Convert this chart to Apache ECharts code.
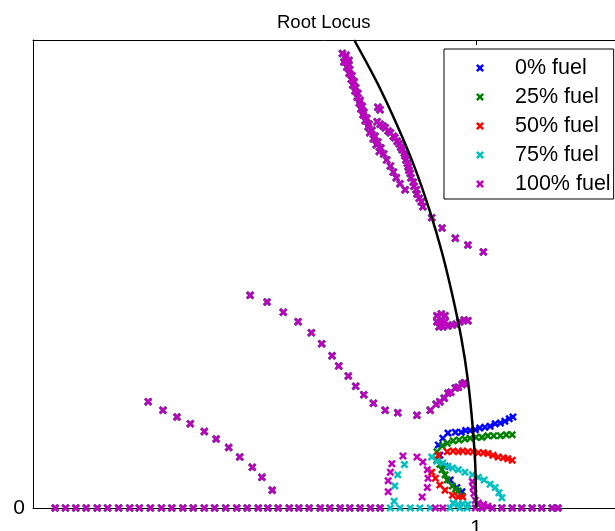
<!DOCTYPE html>
<html>
<head>
<meta charset="utf-8">
<script src="https://cdn.jsdelivr.net/npm/echarts@6/dist/echarts.min.js"></script>
<style>html,body{margin:0;padding:0;background:#fff}#c{width:615px;height:531px}</style>
</head>
<body>
<div id="c"></div>
<script>
// ---- Data ----
const seriesNames = ['0% fuel', '25% fuel', '50% fuel', '75% fuel', '100% fuel'];
const xTickValues = [1];
const yTickValues = [0];

// unit circle boundary (black curve)
const unitCircle = [[0.835,0.55],[0.866,0.50],[0.893,0.45],[0.917,0.40],[0.937,0.35],[0.954,0.30],[0.968,0.25],[0.980,0.20],[0.989,0.15],[0.995,0.10],[0.999,0.05],[1.0,0.0]];

// branches common to all fuel levels
const branchUpperLeft = [[0.819,0.534],[0.824,0.532],[0.823,0.529],[0.828,0.526],[0.821,0.524],[0.827,0.522],[0.825,0.518],[0.829,0.515],[0.828,0.511],[0.832,0.508],[0.831,0.504],[0.835,0.501],[0.833,0.497],[0.837,0.494],[0.836,0.490],[0.840,0.487],[0.839,0.483],[0.843,0.479],[0.842,0.476],[0.846,0.472],[0.844,0.469],[0.848,0.465],[0.847,0.462],[0.852,0.458],[0.850,0.455],[0.855,0.451],[0.854,0.448],[0.859,0.444],[0.856,0.441],[0.863,0.437],[0.861,0.434],[0.867,0.430],[0.865,0.427],[0.871,0.423],[0.869,0.419],[0.875,0.416],[0.879,0.409],[0.884,0.402],[0.888,0.395],[0.892,0.388],[0.897,0.381],[0.904,0.374]];
const branchUpperRight = [[0.866,0.454],[0.870,0.451],[0.874,0.449],[0.877,0.447],[0.881,0.443],[0.884,0.441],[0.888,0.437],[0.890,0.435],[0.893,0.431],[0.896,0.428],[0.898,0.424],[0.900,0.421],[0.903,0.417],[0.904,0.414],[0.905,0.409],[0.907,0.405],[0.908,0.401],[0.909,0.397],[0.911,0.393],[0.912,0.388],[0.915,0.383],[0.916,0.378],[0.919,0.374],[0.920,0.369],[0.923,0.364],[0.926,0.360],[0.928,0.354],[0.940,0.341],[0.954,0.329],[0.972,0.317],[0.989,0.309],[1.010,0.301]];
const clusterTop = [[0.867,0.471],[0.870,0.468]];
const branchMiddle = [[0.694,0.250],[0.717,0.242],[0.739,0.230],[0.759,0.219],[0.777,0.206],[0.791,0.193],[0.805,0.179],[0.814,0.167],[0.827,0.155],[0.837,0.143],[0.848,0.133],[0.861,0.123],[0.877,0.115],[0.894,0.112],[0.920,0.109],[0.938,0.115],[0.946,0.122],[0.951,0.125],[0.957,0.129],[0.962,0.135],[0.966,0.136],[0.972,0.141],[0.976,0.142],[0.981,0.145],[0.984,0.147],[0.985,0.147]];
const blob = [[0.947,0.226],[0.953,0.228],[0.958,0.226],[0.947,0.219],[0.953,0.220],[0.958,0.219],[0.950,0.213],[0.955,0.213],[0.962,0.214],[0.968,0.215],[0.973,0.216],[0.978,0.219],[0.984,0.221],[0.989,0.220]];
const branchLower = [[0.556,0.125],[0.576,0.115],[0.595,0.107],[0.613,0.099],[0.632,0.090],[0.648,0.081],[0.665,0.071],[0.680,0.060],[0.697,0.048],[0.710,0.036],[0.724,0.021]];
const realAxisX = [0.430,0.444,0.458,0.472,0.487,0.501,0.516,0.531,0.544,0.559,0.574,0.588,0.603,0.617,0.632,0.646,0.661,0.676,0.690,0.705,0.718,0.732,0.747,0.760,0.774,0.789,0.802,0.816,0.829,0.843,0.857,0.870,1.008,1.022,1.035,1.049,1.062,1.076,1.089,1.103,1.111];

// branches specific to each fuel level (near z = 1)
const fuel0 = [[0.949,0.074],[0.955,0.082],[0.962,0.088],[0.972,0.089],[0.980,0.089],[0.986,0.091],[0.992,0.091],[0.999,0.092],[1.005,0.094],[1.012,0.095],[1.019,0.096],[1.026,0.099],[1.033,0.100],[1.039,0.102],[1.045,0.105],[1.050,0.107],
  [0.951,0.062],[0.958,0.049],[0.965,0.033],[0.974,0.024],[0.981,0.019]];
const fuel25 = [[0.947,0.066],[0.954,0.073],[0.961,0.076],[0.969,0.079],[0.977,0.080],[0.985,0.081],[0.992,0.082],[1.000,0.083],[1.008,0.083],[1.016,0.085],[1.024,0.085],[1.033,0.085],[1.041,0.086],[1.049,0.086],
  [0.947,0.056],[0.951,0.051],[0.954,0.045],[0.958,0.039],[0.961,0.033],[0.968,0.026],[0.972,0.022],[0.976,0.020],[0.981,0.014]];
const fuel50 = [[0.961,0.066],[0.969,0.067],[0.976,0.066],[0.982,0.067],[0.989,0.066],[0.996,0.066],[1.003,0.065],[1.010,0.065],[1.016,0.064],[1.023,0.062],[1.030,0.060],[1.037,0.059],[1.043,0.058],[1.049,0.056],
  [0.949,0.062],[0.940,0.042],[0.945,0.035],[0.951,0.027],[0.958,0.021],[0.968,0.015],[0.976,0.013],[0.982,0.013]];
const fuel75 = [[0.940,0.060],[0.947,0.055],[0.955,0.053],[0.962,0.049],[0.968,0.047],[0.976,0.045],[0.985,0.042],[0.995,0.039],[1.003,0.036],[1.011,0.033],[1.019,0.028],[1.026,0.024],[1.031,0.018],[1.035,0.012],
  [0.903,0.051],[0.894,0.039],[0.890,0.026],[0.889,0.008],
  [0.969,0.006],[0.976,0.004],[0.982,0.005],[0.989,0.004],
  [0.884,0],[0.897,0],[0.911,0],[0.924,0],[0.938,0],[0.965,0],[0.978,0],[0.988,0]];
const fuel100 = [[0.901,0.061],[0.886,0.052],[0.884,0.042],[0.881,0.032],[0.881,0.019],
  [0.920,0.060],[0.928,0.054],[0.934,0.045],[0.935,0.035],[0.934,0.024],[0.927,0.013],
  [0.995,0.031],[0.996,0.024],[0.997,0.017],[0.999,0.009],[1.003,0.006],[1.010,0.004],[1.016,0.002],
  [0.945,0],[0.955,0],[0.999,0]];

const ownBranches = [fuel0, fuel25, fuel50, fuel75, fuel100];
const colors = ['#0000ff', '#008000', '#ff0000', '#00bfbf', '#bf00bf'];

// ---- Chart ----
const shared = branchUpperLeft.concat(branchUpperRight, clusterTop, branchMiddle, blob, branchLower, realAxisX.map(x => [x, 0]));
const xMark = 'path://M0,2.2 L2.2,0 L5,2.8 L7.8,0 L10,2.2 L7.2,5 L10,7.8 L7.8,10 L5,7.2 L2.2,10 L0,7.8 L2.8,5 Z';
const FONT = 'Liberation Sans, Arial, Helvetica, sans-serif';

const series = seriesNames.map((name, i) => ({
  name: name,
  type: 'scatter',
  data: shared.concat(ownBranches[i]),
  symbol: xMark,
  symbolSize: 8,
  clip: false,
  itemStyle: { color: colors[i], opacity: 1 },
  emphasis: { disabled: true },
  z: 2
}));
series.push({
  type: 'line',
  data: unitCircle,
  showSymbol: false,
  smooth: 0.3,
  lineStyle: { color: '#000', width: 2.5 },
  clip: false,
  z: 3
});

const chart = echarts.init(document.getElementById('c'), null, { renderer: 'canvas' });
chart.setOption({
  animation: false,
  backgroundColor: '#fff',
  title: {
    text: 'Root Locus',
    left: 272, top: 8,
    textStyle: { fontFamily: FONT, fontSize: 18.5, fontWeight: 'normal', color: '#000' }
  },
  legend: {
    data: seriesNames,
    orient: 'vertical',
    left: 444, top: 49,
    padding: [8, 3, 4, 32],
    itemGap: 7,
    itemWidth: 60, itemHeight: 8,
    borderColor: '#000', borderWidth: 1,
    backgroundColor: '#fff',
    textStyle: { fontFamily: FONT, fontSize: 21.5, color: '#000', padding: [0, 0, 0, 0] }
  },
  grid: { left: 33, top: 40, width: 590.7, height: 468, containLabel: false, outerBoundsMode: 'none' },
  xAxis: [{
    type: 'value', min: 0.4, max: 1.2, position: 'bottom',
    axisLine: { show: true, onZero: false, lineStyle: { color: '#000', width: 1 } },
    axisTick: { show: true, inside: true, length: 5, customValues: xTickValues, lineStyle: { color: '#000' } },
    axisLabel: { customValues: xTickValues, margin: 10, fontFamily: FONT, fontSize: 21, color: '#000', formatter: v => String(Math.round(v)) },
    splitLine: { show: false }
  }, {
    type: 'value', min: 0.4, max: 1.2, position: 'top',
    axisLine: { show: true, onZero: false, lineStyle: { color: '#000', width: 1 } },
    axisTick: { show: true, inside: true, length: 5, customValues: xTickValues, lineStyle: { color: '#000' } },
    axisLabel: { show: false },
    splitLine: { show: false }
  }],
  yAxis: {
    type: 'value', min: 0, max: 0.55,
    axisLine: { show: true, onZero: false, lineStyle: { color: '#000', width: 1 } },
    axisTick: { show: true, inside: true, length: 5, customValues: yTickValues, lineStyle: { color: '#000' } },
    axisLabel: { customValues: yTickValues, margin: 8, fontFamily: FONT, fontSize: 21, color: '#000', formatter: v => String(Math.round(v)) },
    splitLine: { show: false }
  },
  series: series
});
</script>
</body>
</html>
